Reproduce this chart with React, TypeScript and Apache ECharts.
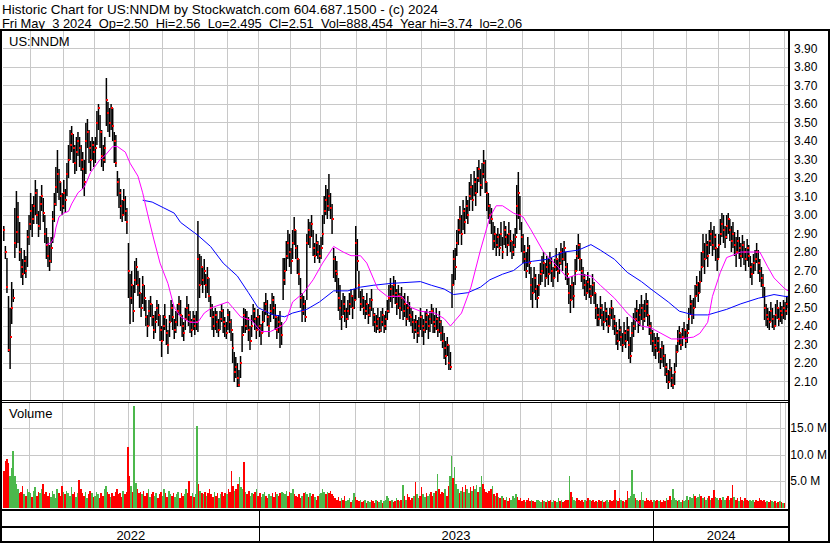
import React, { useEffect, useRef } from "react";
import * as echarts from "echarts";

// ---------- data ----------
const START = "2022-05-05";
const END = "2024-05-03";
// days without a bar on the chart (exchange holidays and missing sessions)
const CLOSED = [
  "2022-05-23", "2022-05-30", "2022-06-20", "2022-07-04", "2022-08-01", "2022-09-05",
  "2022-10-10", "2022-11-24", "2022-12-26", "2022-12-27",
  "2023-01-02", "2023-01-16", "2023-02-20", "2023-04-07", "2023-05-29", "2023-06-19",
  "2023-07-04", "2023-09-04", "2023-11-23", "2023-12-25",
  "2024-01-01", "2024-01-15", "2024-02-19", "2024-03-29",
];

// daily prices in cents
const HIGH = [
  294,283,277,256,250,264,260,304,313,307,
  296,282,276,281,278,292,300,312,306,310,
  319,314,302,310,316,309,300,293,288,284,
  288,302,312,326,335,325,318,312,319,314,
  328,338,346,348,344,338,342,345,342,338,
  334,330,350,352,346,340,342,340,342,
  356,360,354,346,338,342,374,361,358,360,
  358,345,343,324,320,314,308,314,310,304,
  285,268,270,262,275,277,270,266,258,267,
  262,254,246,254,256,252,246,248,254,252,
  246,240,246,252,244,238,246,254,252,244,
  248,252,256,254,246,242,250,256,252,248,
  244,248,246,248,297,279,278,272,276,268,
  272,266,256,252,248,250,248,244,248,252,
  249,245,242,249,248,244,236,226,223,220,
  216,224,240,250,249,248,245,240,246,252,
  250,245,249,246,241,248,253,258,254,246,
  252,258,256,252,245,246,248,242,277,
  277,286,292,290,282,292,299,292,284,276,
  266,258,256,254,290,298,296,300,292,285,
  290,286,284,288,300,310,316,314,322,312,
  306,282,278,275,266,262,254,258,256,250,
  254,258,260,257,260,294,287,270,259,260,
  256,254,258,252,255,260,250,247,246,250,
  245,248,250,246,248,254,262,266,262,267,
  265,260,262,258,261,256,258,252,256,253,
  250,248,244,246,243,245,250,246,244,248,
  249,246,248,252,250,246,250,245,248,243,
  240,236,232,234,230,226,268,281,282,292,
  298,305,300,308,304,310,308,318,322,316,
  324,320,326,330,325,328,335,330,318,312,
  306,304,296,294,290,293,290,296,288,
  297,294,290,296,292,286,290,293,316,323,
  310,296,290,284,280,288,284,272,266,272,
  268,262,268,274,278,280,274,278,276,280,
  277,272,276,282,276,280,285,282,286,280,
  274,266,262,267,264,276,284,290,285,276,
  272,268,265,269,266,262,268,264,258,252,
  250,256,252,248,253,250,246,250,254,250,
  246,242,238,244,240,236,242,238,245,240,
  234,242,247,250,254,249,252,257,252,254,
  258,254,246,242,238,236,234,236,234,228,
  232,230,225,220,216,222,218,214,220,230,
  238,240,236,239,242,238,241,250,257,
  254,255,262,267,264,270,280,290,285,290,
  286,292,296,292,294,290,282,290,298,301,
  300,294,300,301,298,294,296,291,288,292,
  288,285,289,286,282,287,284,278,274,279,
  281,285,281,276,272,268,261,252,250,248,
  253,250,246,252,254,250,253,251,254,253,
  256,256,
];

const LOW = [
  286,276,258,226,217,241,253,277,282,285,
  275,266,262,268,266,272,284,292,288,295,
  300,295,288,292,302,296,285,276,272,270,
  274,285,296,305,312,308,302,300,303,301,
  310,320,330,334,328,322,324,332,326,324,
  314,310,322,336,328,324,330,326,328,
  338,346,336,326,324,328,348,345,342,346,
  340,328,326,310,304,298,296,300,297,290,
  255,241,252,242,258,262,256,250,245,252,
  248,240,234,240,245,240,233,236,243,240,
  232,223,232,238,230,225,234,242,238,233,
  236,240,246,240,234,232,238,243,240,236,
  234,238,235,238,237,255,262,258,262,255,
  258,253,245,238,234,238,236,234,238,242,
  236,234,233,238,236,232,220,210,212,207,
  207,212,226,236,236,238,232,227,234,242,
  238,233,238,234,230,236,242,246,240,234,
  242,246,244,238,233,236,228,230,254,
  262,270,276,272,268,276,284,276,268,262,
  250,242,246,242,254,284,282,288,278,274,
  278,276,274,276,284,295,300,298,302,298,
  290,266,264,258,248,243,238,246,242,239,
  243,246,250,244,249,254,270,255,248,250,
  246,244,246,241,245,248,240,237,236,238,
  236,237,240,236,238,243,247,253,250,255,
  252,246,249,244,248,243,245,240,243,242,
  240,236,233,236,231,234,238,234,230,236,
  238,233,237,241,236,236,238,234,236,232,
  228,222,219,224,216,216,250,262,265,278,
  284,290,284,292,290,298,295,302,308,302,
  310,305,312,318,310,314,320,312,302,298,
  295,290,281,282,278,282,278,283,276,
  284,282,278,283,280,276,278,282,290,298,
  292,280,274,270,266,272,268,254,250,258,
  254,250,256,262,264,268,261,266,262,268,
  264,261,266,270,264,268,273,270,275,265,
  262,252,247,254,250,262,270,276,270,264,
  260,256,254,258,255,252,256,252,244,240,
  240,244,240,238,242,240,236,240,244,238,
  235,230,227,232,229,226,230,228,232,222,
  220,226,234,238,242,236,240,243,238,242,
  245,240,235,230,226,224,222,226,220,217,
  220,218,213,209,206,210,207,206,208,218,
  226,230,227,229,233,228,231,238,246,
  241,244,250,256,253,258,264,272,268,276,
  272,279,283,278,281,275,270,277,284,288,
  285,282,287,290,286,280,282,278,272,279,
  276,272,277,273,270,275,272,266,262,268,
  270,274,268,264,261,255,243,240,239,238,
  242,239,238,240,244,240,242,241,244,243,
  246,249.5,
];

const CLOSE = [
  292,280,261,227,234,250,255,285,291,299,
  280,272,268,275,270,288,295,302,298,305,
  312,300,294,306,310,301,290,284,278,275,
  282,298,306,315,322,318,310,305,312,308,
  322,330,338,344,336,328,334,340,336,330,
  325,318,340,345,336,330,338,334,336,
  350,358,345,332,330,336,362,355,350,358,
  348,340,328,318,312,305,300,308,302,296,
  270,255,262,248,265,272,262,258,250,262,
  255,245,240,248,252,245,238,242,250,246,
  238,232,240,245,236,230,242,250,245,238,
  242,248,252,246,240,236,244,250,246,242,
  238,244,240,242,276,262,272,265,270,262,
  266,256,250,245,240,246,242,238,244,248,
  242,240,236,246,242,238,228,215,218,212,
  208,220,235,246,240,244,238,232,240,248,
  244,238,245,240,236,242,248,252,245,240,
  248,254,250,245,238,242,240,235,265,
  270,278,285,280,275,285,292,282,276,268,
  255,248,252,245,285,292,288,295,282,278,
  285,280,278,282,290,302,308,305,310,304,
  298,276,270,268,255,250,245,252,248,244,
  248,252,256,250,254,285,275,262,252,255,
  250,248,252,246,250,254,246,242,240,244,
  238,242,246,240,244,248,255,260,256,262,
  258,252,256,250,255,248,252,244,250,246,
  245,242,238,242,236,240,245,240,238,242,
  246,240,244,248,242,240,244,238,242,236,
  232,228,224,230,220,218,262,276,272,285,
  292,298,290,302,296,305,300,310,315,308,
  318,312,320,325,316,322,328,318,312,305,
  300,298,286,290,284,288,282,290,280,
  292,288,284,290,286,280,284,288,305,312,
  300,288,280,276,270,282,274,262,258,266,
  260,255,262,268,270,274,266,272,268,274,
  270,266,272,276,270,274,280,276,282,272,
  268,258,254,262,256,270,278,284,276,270,
  266,262,258,264,260,256,262,258,250,246,
  244,250,246,242,248,244,240,246,250,244,
  240,236,232,238,234,230,236,232,238,230,
  224,236,240,244,248,242,246,250,244,248,
  252,246,240,236,232,230,228,232,226,222,
  228,224,218,214,210,216,212,208,215,226,
  232,236,230,234,238,232,236,244,252,
  246,250,256,262,258,264,272,280,276,284,
  278,286,290,284,288,282,276,284,290,295,
  292,288,294,298,292,286,290,284,280,286,
  282,278,284,280,276,282,278,272,268,274,
  276,280,274,270,266,262,250,246,244,242,
  248,244,240,246,250,244,248,246,250,248,
  252,251,
];

// daily volume in units of 100,000 shares
const VOLUME = [
  70,88,92,85,60,75,108,60,45,35,
  28,30,40,25,22,35,30,28,20,32,
  38,22,30,28,35,45,25,30,22,28,
  20,32,25,18,35,28,22,40,30,25,
  32,28,22,38,25,30,20,28,52,35,
  28,22,30,18,25,32,28,20,22,
  30,25,18,28,22,35,40,30,25,20,
  28,22,30,35,25,28,20,32,25,30,
  115,60,40,30,192,46,35,28,30,25,
  32,22,28,35,20,25,30,22,28,18,
  25,30,22,35,28,20,32,25,22,28,
  20,25,30,18,28,22,25,35,28,50,
  22,28,20,25,155,45,32,28,25,30,
  22,28,35,25,20,30,22,28,18,25,
  30,22,28,25,35,30,70,40,32,35,
  45,58,38,35,86,30,25,32,22,28,
  25,30,35,22,28,20,25,30,22,18,
  25,22,28,20,30,25,22,28,30,
  28,25,32,22,30,28,35,25,22,20,
  25,18,22,28,30,25,20,28,22,25,
  20,15,22,25,28,35,30,25,30,28,
  32,25,22,18,15,20,12,18,15,22,
  12,15,18,10,14,28,20,15,12,14,
  10,12,15,8,12,10,14,12,9,15,
  12,10,14,8,12,15,22,18,12,15,
  10,12,18,15,12,14,42,22,15,25,
  20,15,18,22,48,25,18,22,38,25,
  20,28,22,25,30,22,28,32,63,35,
  25,30,28,35,22,40,60,98,55,77,
  45,35,28,32,38,30,42,35,28,38,
  32,40,35,42,30,38,60,45,35,30,
  28,32,35,40,25,22,28,20,18,
  22,18,15,20,12,18,15,22,18,25,
  20,15,18,12,15,10,14,18,12,15,
  12,10,14,15,12,10,15,12,10,14,
  12,15,10,14,12,10,18,12,15,10,
  12,14,15,59,30,20,15,12,18,14,
  12,15,10,14,12,18,15,12,14,10,
  12,10,15,12,14,10,12,15,10,14,
  12,15,33,14,12,18,15,12,10,14,
  32,18,22,72,25,18,15,12,14,30,
  15,12,18,14,12,15,10,14,12,15,
  12,14,10,15,12,18,14,22,15,35,
  18,15,12,14,10,15,12,14,22,
  15,20,18,25,22,18,20,25,22,18,
  20,15,18,22,15,18,33,20,18,15,
  18,15,20,14,18,22,15,18,42,20,
  15,18,12,20,15,12,18,14,12,15,
  12,15,10,14,12,18,15,12,14,10,
  12,10,14,12,10,12,8,10,12,10,
  8,9,
];

// moving averages: [day index, price]
const MA_SHORT = [
  [27,2.84],[30,2.85],[32,2.88],[33,2.93],[35,2.99],[38,3.01],[41,3.02],[43,3.06],[47,3.12],
  [51,3.15],[55,3.23],[61,3.30],[64,3.32],[69,3.37],[72,3.37],[77,3.34],[80,3.28],[85,3.21],
  [88,3.12],[91,3.01],[95,2.87],[99,2.74],[104,2.63],[108,2.50],[112,2.45],[118,2.42],
  [123,2.42],[127,2.47],[132,2.50],[142,2.53],[145,2.50],[150,2.45],[157,2.43],[163,2.37],
  [169,2.37],[176,2.40],[179,2.43],[183,2.53],[190,2.58],[196,2.65],[202,2.74],[209,2.83],
  [215,2.80],[220,2.78],[226,2.78],[230,2.74],[237,2.60],[243,2.56],[252,2.56],[258,2.50],
  [264,2.48],[273,2.47],[279,2.44],[283,2.40],[290,2.47],[296,2.61],[302,2.81],[308,2.99],
  [312,3.05],[316,3.05],[323,3.01],[329,2.99],[334,2.92],[342,2.80],[351,2.72],[357,2.66],
  [364,2.68],[372,2.67],[378,2.62],[387,2.55],[395,2.47],[404,2.40],[410,2.39],[423,2.33],
  [428,2.33],[437,2.34],[441,2.36],[446,2.42],[449,2.56],[454,2.69],[458,2.77],[467,2.80],
  [475,2.80],[479,2.80],[484,2.72],[488,2.66],[495,2.60],[497,2.59],
];
const MA_LONG = [
  [88,3.08],[94,3.07],[101,3.04],[108,3.01],[112,2.96],[123,2.89],[131,2.83],[139,2.74],
  [148,2.67],[155,2.58],[161,2.50],[168,2.47],[171,2.46],[178,2.45],[183,2.47],[192,2.49],
  [200,2.53],[209,2.59],[218,2.59],[226,2.61],[234,2.62],[245,2.63],[264,2.64],[271,2.62],
  [279,2.60],[285,2.57],[294,2.58],[302,2.61],[308,2.65],[316,2.68],[323,2.70],[329,2.74],
  [335,2.75],[344,2.76],[355,2.80],[364,2.81],[372,2.84],[378,2.81],[387,2.76],[395,2.69],
  [404,2.64],[410,2.60],[421,2.53],[428,2.48],[437,2.46],[446,2.46],[458,2.49],[467,2.52],
  [478,2.55],[488,2.57],[495,2.56],[497,2.56],
];

const HEADER_1 = "Historic Chart for US:NNDM by Stockwatch.com 604.687.1500 - (c) 2024";
const HEADER_2 =
  "Fri May  3 2024  Op=2.50  Hi=2.56  Lo=2.495  Cl=2.51  Vol=888,454  Year hi=3.74  lo=2.06";
const SYMBOL = "US:NNDM";
const VOLUME_TITLE = "Volume";

const PRICE_MIN = 2;
const PRICE_MAX = 4;
const PRICE_STEP = 0.1;
const VOL_MAX = 20000000;
const VOL_STEP = 5000000;
const VOL_UNIT = 100000;

// ---------- helpers ----------
function tradingDays(): string[] {
  const out: string[] = [];
  const d = new Date(START + "T00:00:00Z");
  const end = new Date(END + "T00:00:00Z");
  while (d <= end) {
    const wd = d.getUTCDay();
    const s = d.toISOString().slice(0, 10);
    if (wd !== 0 && wd !== 6 && CLOSED.indexOf(s) < 0) out.push(s);
    d.setUTCDate(d.getUTCDate() + 1);
  }
  return out;
}

// keep runs of spaces visible in SVG text
const keepSpaces = (s: string) => s.replace(/ {2}/g, " \u00a0");

const FONT = '"Liberation Sans", Arial, Helvetica, sans-serif';
const GRID_COLOR = "#c8c8c8";
const UP = "#4cb84c";
const DOWN = "#ff0000";
const FLAT = "#b4b4b4";
const VOL_COLORS = [DOWN, UP, FLAT];

export default function App() {
  const ref = useRef<HTMLDivElement>(null);

  useEffect(() => {
    if (!ref.current) return;
    const chart = echarts.init(ref.current, null, { renderer: "svg", width: 830, height: 543 });
    const dates = tradingDays();
    const N = Math.min(dates.length, CLOSE.length);
    const cats = dates.slice(0, N);
    const monthStart = (i: number) => i > 0 && cats[i].slice(0, 7) !== cats[i - 1].slice(0, 7);

    const priceData = cats.map((_, i) => [i, HIGH[i] / 100, LOW[i] / 100]);
    const closeData = cats.map((_, i) => [i, CLOSE[i] / 100]);
    const volData = cats.map((_, i) => {
      let c = 0;
      if (i > 0) c = CLOSE[i] > CLOSE[i - 1] ? 1 : CLOSE[i] < CLOSE[i - 1] ? 0 : 2;
      return [i, VOLUME[i] * VOL_UNIT, c];
    });

    const xAxisBase = (g: number) => ({
      type: "category",
      gridIndex: g,
      data: cats,
      boundaryGap: true,
      axisLine: { show: false },
      axisTick: { show: false },
      axisLabel: { show: false },
      splitLine: {
        show: true,
        interval: (i: number) => monthStart(i),
        lineStyle: { color: GRID_COLOR, width: 1 },
      },
    });

    const option: any = {
      animation: false,
      backgroundColor: "#ffffff",
      grid: [
        { left: 3, top: 30, width: 786, height: 370 },
        { left: 3, top: 402, width: 786, height: 105.5 },
      ],
      xAxis: [xAxisBase(0), xAxisBase(1)],
      yAxis: [
        {
          type: "value",
          gridIndex: 0,
          position: "right",
          min: PRICE_MIN,
          max: PRICE_MAX,
          interval: PRICE_STEP,
          axisLine: { show: false },
          axisTick: { show: false },
          axisLabel: {
            fontSize: 12,
            fontFamily: FONT,
            color: "#000",
            margin: 5,
            formatter: (v: number) => (v < PRICE_MIN + 0.05 || v > PRICE_MAX - 0.05 ? "" : v.toFixed(2)),
          },
          splitLine: { show: true, lineStyle: { color: GRID_COLOR, width: 1 } },
        },
        {
          type: "value",
          gridIndex: 1,
          position: "right",
          min: 0,
          max: VOL_MAX,
          interval: VOL_STEP,
          axisLine: { show: false },
          axisTick: { show: false },
          axisLabel: {
            fontSize: 12,
            fontFamily: FONT,
            color: "#000",
            margin: 5,
            formatter: (v: number) => (v <= 0 || v >= VOL_MAX ? "" : (v / 1000000).toFixed(1) + " M"),
          },
          splitLine: { show: true, lineStyle: { color: GRID_COLOR, width: 1 } },
        },
      ],
      series: [
        {
          type: "custom",
          name: "range",
          xAxisIndex: 0,
          yAxisIndex: 0,
          data: priceData,
          encode: { x: 0, y: [1, 2] },
          renderItem: (_p: any, api: any) => {
            const i = api.value(0);
            const t = api.coord([i, api.value(1)]);
            const b = api.coord([i, api.value(2)]);
            const y0 = Math.round(t[1]);
            const y1 = Math.round(b[1]);
            return {
              type: "rect",
              shape: { x: t[0] - 0.75, y: y0, width: 1.5, height: Math.max(1, y1 - y0) },
              style: { fill: "#000" },
            };
          },
          z: 2,
        },
        {
          type: "custom",
          name: "close",
          xAxisIndex: 0,
          yAxisIndex: 0,
          data: closeData,
          encode: { x: 0, y: 1 },
          renderItem: (_p: any, api: any) => {
            const c = api.coord([api.value(0), api.value(1)]);
            return {
              type: "rect",
              shape: { x: Math.floor(c[0]), y: Math.round(c[1]) - 1, width: 2, height: 2 },
              style: { fill: DOWN },
            };
          },
          z: 3,
        },
        {
          type: "line",
          name: "ma-long",
          xAxisIndex: 0,
          yAxisIndex: 0,
          data: MA_LONG,
          symbol: "none",
          lineStyle: { color: "#0000ff", width: 1 },
          z: 4,
        },
        {
          type: "line",
          name: "ma-short",
          xAxisIndex: 0,
          yAxisIndex: 0,
          data: MA_SHORT,
          symbol: "none",
          lineStyle: { color: "#ff00ff", width: 1 },
          z: 5,
        },
        {
          type: "custom",
          name: "volume",
          xAxisIndex: 1,
          yAxisIndex: 1,
          data: volData,
          encode: { x: 0, y: 1 },
          renderItem: (_p: any, api: any) => {
            const i = api.value(0);
            const t = api.coord([i, api.value(1)]);
            const b = api.coord([i, 0]);
            const bw = api.size([1, 0])[0];
            const x0 = Math.round(t[0] - bw / 2);
            const x1 = Math.round(t[0] + bw / 2);
            const y0 = Math.round(t[1]);
            const y1 = Math.round(b[1]);
            return {
              type: "rect",
              shape: { x: x0, y: y0, width: Math.max(1, x1 - x0), height: Math.max(1, y1 - y0) },
              style: { fill: VOL_COLORS[api.value(2)] },
            };
          },
          z: 2,
        },
      ],
    };
    chart.setOption(option);

    // year separators and labels from the category axis scale
    const px = (i: number) => chart.convertToPixel({ xAxisIndex: 0 }, i) as number;
    const bw = px(1) - px(0);
    const left = px(0) - bw / 2;
    const right = px(N - 1) + bw / 2;
    const bounds: number[] = [left];
    const years: string[] = [cats[0].slice(0, 4)];
    for (let i = 1; i < N; i++) {
      if (cats[i].slice(0, 4) !== cats[i - 1].slice(0, 4)) {
        bounds.push(px(i) - bw / 2);
        years.push(cats[i].slice(0, 4));
      }
    }
    bounds.push(right);

    const black = (x: number, y: number, w: number, h: number) => ({
      type: "rect",
      shape: { x, y, width: w, height: h },
      style: { fill: "#000" },
      silent: true,
      z: 100,
    });
    const txt = (x: number, y: number, text: string, size: number, align = "left") => ({
      type: "text",
      x,
      y,
      style: {
        text,
        fill: "#000",
        fontSize: size,
        fontFamily: FONT,
        align,
        verticalAlign: "middle",
      },
      silent: true,
      z: 101,
    });

    const graphics: any[] = [
      txt(2, 9.5, HEADER_1, 13.5),
      txt(2, 23.5, keepSpaces(HEADER_2), 12.9),
      black(0, 29, 830, 2),
      black(0, 29, 2, 514),
      black(788, 29, 2, 514),
      black(828, 29, 2, 514),
      black(0, 400, 790, 1),
      black(0, 402, 790, 1),
      black(0, 509, 790, 2),
      black(0, 526, 790, 2),
      black(0, 541, 830, 2),
      txt(9, 41.5, SYMBOL, 13),
      txt(9, 413, VOLUME_TITLE, 13),
    ];
    for (let k = 1; k < bounds.length - 1; k++) {
      graphics.push(black(Math.round(bounds[k]), 510, 1, 31));
    }
    for (let k = 0; k < years.length; k++) {
      graphics.push(txt((bounds[k] + bounds[k + 1]) / 2, 535, years[k], 13, "center"));
    }
    chart.setOption({ graphic: graphics });

    return () => chart.dispose();
  }, []);

  return (
    <div
      style={{ position: "fixed", left: 0, top: 0, width: 830, height: 543, background: "#fff" }}
    >
      <div ref={ref} style={{ width: 830, height: 543 }} />
    </div>
  );
}
